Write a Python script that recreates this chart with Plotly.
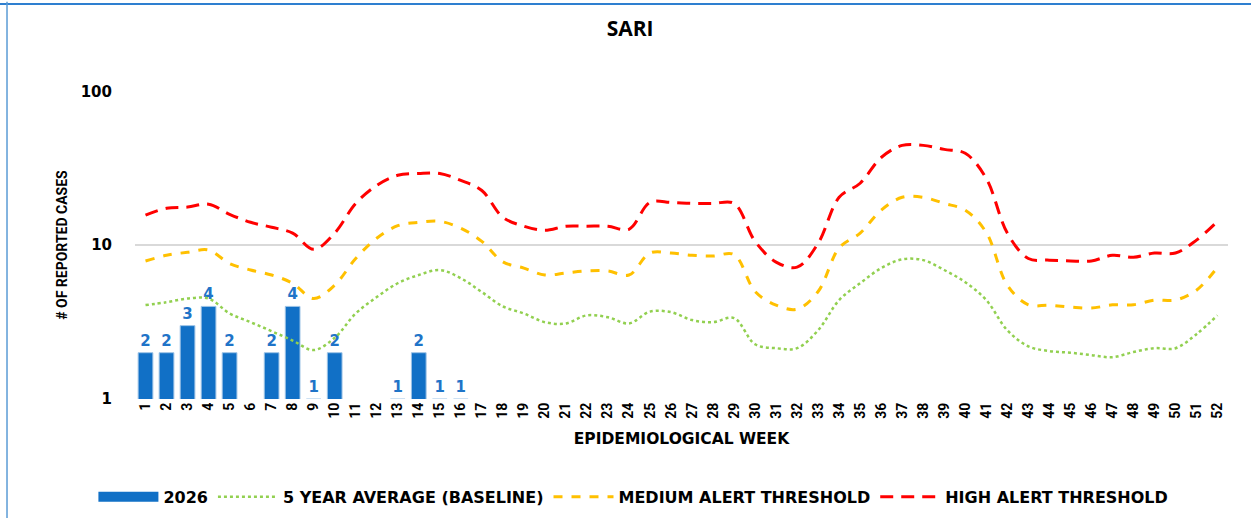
import plotly.graph_objects as go

weeks = [str(w) for w in range(1, 53)]

cases_2026 = [2, 2, 3, 4, 2, None, 2, 4, 1, 2, None, None, 1, 2, 1, 1] + [None] * 36

baseline = [4.08, 4.26, 4.5, 4.5, 3.6, 3.16, 2.76, 2.4, 2.08, 2.5,
            3.6, 4.6, 5.66, 6.4, 6.9, 6.1, 4.96, 4.0, 3.6, 3.16,
            3.1, 3.5, 3.4, 3.1, 3.7, 3.67, 3.26, 3.16, 3.36, 2.27,
            2.14, 2.14, 2.8, 4.4, 5.66, 7.1, 8.1, 8.0, 6.9, 5.75,
            4.4, 2.8, 2.2, 2.05, 2.0, 1.93, 1.87, 2.02, 2.14, 2.14,
            2.64, 3.5]

medium = [7.9, 8.6, 9.0, 9.3, 7.6, 6.9, 6.4, 5.66, 4.5, 5.5,
          8.2, 11.1, 13.4, 14.1, 14.3, 12.9, 10.6, 7.8, 7.1, 6.4,
          6.6, 6.8, 6.8, 6.4, 8.9, 8.9, 8.6, 8.5, 8.7, 5.0,
          4.08, 3.84, 5.0, 9.6, 12.0, 16.9, 20.5, 20.5, 18.7, 16.9,
          12.1, 5.5, 4.1, 4.07, 3.96, 3.9, 4.1, 4.1, 4.4, 4.4,
          5.1, 7.2]

high = [15.7, 17.4, 17.7, 18.5, 15.9, 14.1, 13.1, 12.0, 9.4, 12.0,
        18.7, 24.5, 28.5, 29.3, 29.3, 26.4, 22.7, 15.2, 13.3, 12.5,
        13.3, 13.3, 13.3, 12.7, 19.0, 19.0, 18.7, 18.7, 18.7, 10.6,
        7.77, 7.2, 10.3, 20.5, 25.3, 37.2, 44.6, 44.6, 42.0, 39.6,
        27.2, 12.0, 8.2, 8.0, 7.9, 7.9, 8.6, 8.35, 8.9, 8.9,
        10.8, 14.3]

narrow = "Roboto, sans-serif"
wide = "DejaVu Sans, Verdana, sans-serif"
BAR_BLUE = "#1170C6"

fig = go.Figure()

fig.add_trace(go.Bar(
    x=weeks, y=cases_2026, name="2026", showlegend=False,
    marker=dict(color=BAR_BLUE, line=dict(color="#9DC3E6", width=1)),
    texttemplate="%{y}", textposition="outside", cliponaxis=False,
    textfont=dict(family=wide, size=15, color="#1F74C8", weight="bold"),
))
# legend entry for the bars (wide rectangular swatch)
fig.add_trace(go.Scatter(
    x=[None], y=[None], name="2026", mode="lines",
    line=dict(color=BAR_BLUE, width=10),
))
fig.add_trace(go.Scatter(
    x=weeks, y=baseline, name="5 YEAR AVERAGE (BASELINE)", mode="lines",
    line=dict(color="#92D050", width=2.5, dash="dot", shape="spline"),
))
fig.add_trace(go.Scatter(
    x=weeks, y=medium, name="MEDIUM ALERT THRESHOLD", mode="lines",
    line=dict(color="#FFC000", width=3, dash="dash", shape="spline"),
))
fig.add_trace(go.Scatter(
    x=weeks, y=high, name="HIGH ALERT THRESHOLD", mode="lines",
    line=dict(color="#FF0000", width=3, dash="13px,8px", shape="spline"),
))

fig.update_layout(
    width=1251, height=518,
    margin=dict(l=135, r=23, t=91, b=119, autoexpand=False),
    paper_bgcolor="white", plot_bgcolor="white",
    bargap=0.3,
    showlegend=True,
    title=dict(text="SARI", x=0.453, xanchor="center", xref="paper", y=0.945, yanchor="middle",
               font=dict(family="Open Sans, sans-serif", size=21, color="black", weight="bold")),
    legend=dict(orientation="h", x=0.456, xanchor="center", y=-0.318, yanchor="middle",
                font=dict(family=wide, size=16, color="black", weight="bold"),
                traceorder="normal", itemwidth=60, tracegroupgap=0),
    xaxis=dict(
        type="category", tickangle=-90, showgrid=False, ticks="",
        tickfont=dict(family=narrow, size=14, color="black", weight="bold"),
        showline=False, automargin=False,
        title=dict(text="EPIDEMIOLOGICAL WEEK", standoff=15,
                   font=dict(family=wide, size=15.5, color="black", weight="bold")),
    ),
    yaxis=dict(
        type="log", range=[0, 2.003], tickvals=[1, 10, 100], ticktext=["1", "10", "100"],
        showgrid=True, gridcolor="#D9D9D9", gridwidth=1.5, zeroline=False,
        ticks="", ticklabelstandoff=22, automargin=False,
        tickfont=dict(family=wide, size=15, color="black", weight="bold"),
        title=dict(text="# OF REPORTED CASES", standoff=9,
                   font=dict(family=narrow, size=14, color="black", weight="bold")),
    ),
    shapes=[
        dict(type="line", xref="paper", yref="paper", x0=-0.125, x1=1.03, y0=1.2825, y1=1.2825,
             line=dict(color="#2E7FD0", width=2)),
        dict(type="line", xref="paper", yref="paper", x0=-0.1171, x1=-0.1171, y0=1.29, y1=-0.4,
             line=dict(color="#5B9BD5", width=1.5)),
    ],
)

fig.write_html("out.html", config={"displayModeBar": False},
               post_script="document.body.style.margin='0';")
